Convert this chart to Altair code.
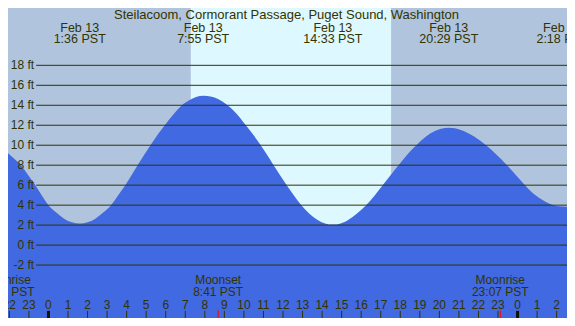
import altair as alt
import pandas as pd

# ---------------- data ----------------
TITLE = "Steilacoom, Cormorant Passage, Puget Sound, Washington"

# tide curve (hour of Feb 13, feet)
TIDE_HOURS = [-2.07, -1.75, -1.41, -1.05, -0.67, -0.33, 0.0, 0.4, 0.8, 1.2,
              1.6, 2.0, 2.4, 2.8, 3.2, 3.55, 3.93, 4.25, 4.56, 4.9,
              5.22, 5.6, 5.95, 6.4, 6.8, 7.2, 7.55, 7.93, 8.3, 8.7,
              9.1, 9.6, 10.1, 10.5, 10.86, 11.2, 11.52, 11.85, 12.19, 12.55,
              12.94, 13.35, 13.75, 14.15, 14.55, 14.95, 15.35, 15.8, 16.25, 16.7,
              17.1, 17.5, 17.91, 18.35, 18.82, 19.3, 19.8, 20.48, 21.1, 21.8,
              22.39, 22.9, 23.46, 23.9, 24.38, 24.85, 25.3, 25.7, 26.1, 26.53]
TIDE_FT = [9.2, 8.65, 8.0, 7.05, 6.0, 4.95, 4.0, 3.26, 2.65, 2.28,
           2.15, 2.28, 2.65, 3.26, 4.0, 4.95, 6.0, 7.0, 8.0, 9.05,
           10.0, 11.1, 12.0, 13.1, 13.95, 14.5, 14.82, 14.95, 14.88, 14.6,
           14.1, 13.2, 12.0, 11.0, 10.0, 9.0, 8.0, 7.0, 6.0, 5.0,
           4.0, 3.15, 2.55, 2.17, 2.05, 2.17, 2.55, 3.2, 4.0, 5.0,
           6.0, 7.0, 8.0, 9.05, 10.0, 10.85, 11.45, 11.75, 11.53, 10.85,
           10.0, 9.1, 8.0, 7.05, 6.0, 5.1, 4.48, 4.08, 3.88, 3.85]

# high / low tide events
EVENT_HOURS = [1.6, 7.917, 14.55, 20.483, 26.3]
EVENT_DATES = ["Feb 13", "Feb 13", "Feb 13", "Feb 13", "Feb 14"]
EVENT_TIMES = ["1:36 PST", "7:55 PST", "14:33 PST", "20:29 PST", "2:18 PST"]

# daylight (sunrise / sunset, hours)
DAY_START, DAY_END = 7.28, 17.53

# horizontal reference lines
GRID_FT = [-2, 0, 2, 4, 6, 8, 10, 12, 14, 16, 18]
GRID_LABELS = [f"{v} ft" for v in GRID_FT]

# hour ticks along the bottom
HOUR_TICKS = list(range(-2, 27))
HOUR_LABELS = [str(h % 24) for h in HOUR_TICKS]
MIDNIGHTS = [0, 24]

# moon events
MOON_HOURS = [-2.16, 8.683, 23.117]
MOON_NAMES = ["Moonrise", "Moonset", "Moonrise"]
MOON_TIMES = ["21:50 PST", "8:41 PST", "23:07 PST"]

# ---------------- layout ----------------
W, H = 559, 310
XMIN, XMAX = -2.07, 26.53
YMIN, YMAX = -7.3, 23.74

TITLE_Y = 22.6
DATE_Y, TIME_Y = 21.38, 20.2
MOON_NAME_Y, MOON_TIME_Y = -3.9, -5.05
HOUR_LABEL_Y = -6.35
TICK_TOP = -6.59
GRID_X0 = -0.63
GRID_LABEL_X = -0.73

FONT = "Liberation Sans"
TXT = "#333300"
NIGHT = "#B0C4DE"
DAY = "#DDF8FF"
WATER = "#4169E1"

xs = alt.Scale(domain=[XMIN, XMAX], nice=False, zero=False)
ys = alt.Scale(domain=[YMIN, YMAX], nice=False, zero=False)


def X(f="h"):
    return alt.X(f"{f}:Q", scale=xs, axis=None)


def Y(f="y"):
    return alt.Y(f"{f}:Q", scale=ys, axis=None)


day_df = pd.DataFrame({"h": [DAY_START], "h2": [DAY_END], "y": [YMAX], "y2": [YMIN]})
day = alt.Chart(day_df).mark_rect(color=DAY).encode(
    x=X(), x2="h2:Q", y=Y(), y2="y2:Q")

tide_df = pd.DataFrame({"h": TIDE_HOURS, "y": TIDE_FT})
tide = alt.Chart(tide_df).mark_area(color=WATER, opacity=1, interpolate="monotone").encode(
    x=X(), y=Y(), y2=alt.datum(YMIN))

grid_df = pd.DataFrame({"h": [GRID_X0] * len(GRID_FT), "h2": [XMAX] * len(GRID_FT),
                        "y": GRID_FT, "label": GRID_LABELS, "hl": [GRID_LABEL_X] * len(GRID_FT)})
grid = alt.Chart(grid_df).mark_rule(color=TXT, strokeWidth=1).encode(
    x=X(), x2="h2:Q", y=Y())
grid_labels = alt.Chart(grid_df).mark_text(
    align="right", baseline="middle", font=FONT, fontSize=12, color=TXT).encode(
    x=X("hl"), y=Y(), text="label:N")

title_df = pd.DataFrame({"h": [(XMIN + XMAX) / 2 - 0.05], "y": [TITLE_Y], "t": [TITLE]})
title = alt.Chart(title_df).mark_text(
    align="center", baseline="alphabetic", font=FONT, fontSize=13, color=TXT).encode(
    x=X(), y=Y(), text="t:N")

ev_df = pd.DataFrame({"h": EVENT_HOURS, "d": EVENT_DATES, "t": EVENT_TIMES,
                      "yd": [DATE_Y] * 5, "yt": [TIME_Y] * 5})
ev_dates = alt.Chart(ev_df).mark_text(
    align="center", baseline="alphabetic", font=FONT, fontSize=12.5, color=TXT).encode(
    x=X(), y=Y("yd"), text="d:N")
ev_times = alt.Chart(ev_df).mark_text(
    align="center", baseline="alphabetic", font=FONT, fontSize=12.5, color=TXT).encode(
    x=X(), y=Y("yt"), text="t:N")

moon_df = pd.DataFrame({"h": MOON_HOURS, "n": MOON_NAMES, "t": MOON_TIMES,
                        "yn": [MOON_NAME_Y] * 3, "yt": [MOON_TIME_Y] * 3,
                        "y0": [TICK_TOP + 0.05] * 3, "y1": [YMIN] * 3})
moon_names = alt.Chart(moon_df).mark_text(
    align="center", baseline="alphabetic", font=FONT, fontSize=12, color=TXT).encode(
    x=X(), y=Y("yn"), text="n:N")
moon_times = alt.Chart(moon_df).mark_text(
    align="center", baseline="alphabetic", font=FONT, fontSize=12, color=TXT).encode(
    x=X(), y=Y("yt"), text="t:N")

hour_df = pd.DataFrame({"h": HOUR_TICKS, "label": HOUR_LABELS,
                        "yl": [HOUR_LABEL_Y] * len(HOUR_TICKS),
                        "y0": [TICK_TOP] * len(HOUR_TICKS), "y1": [YMIN] * len(HOUR_TICKS)})
hour_labels = alt.Chart(hour_df).mark_text(
    align="center", baseline="alphabetic", font=FONT, fontSize=12, color=TXT).encode(
    x=X(), y=Y("yl"), text="label:N")
hour_ticks = alt.Chart(hour_df).mark_rule(color=TXT, strokeWidth=1).encode(
    x=X(), y=Y("y0"), y2="y1:Q")

mid_df = pd.DataFrame({"h": MIDNIGHTS, "y0": [TICK_TOP] * 2, "y1": [YMIN] * 2})
mid_ticks = alt.Chart(mid_df).mark_rule(color="#111100", strokeWidth=3).encode(
    x=X(), y=Y("y0"), y2="y1:Q")

moon_ticks = alt.Chart(moon_df).mark_rule(color="#FF0000", strokeWidth=1).encode(
    x=X(), y=Y("y0"), y2="y1:Q")

chart = alt.layer(
    day, tide, grid, grid_labels, title, ev_dates, ev_times,
    moon_names, moon_times, hour_labels, hour_ticks, mid_ticks, moon_ticks
).properties(
    width=W, height=H,
    autosize=alt.AutoSizeParams(type="none"),
    padding=0,
).configure(background=NIGHT).configure_view(fill=NIGHT, strokeWidth=0)

chart.save("out.html", embed_options={"renderer": "svg", "actions": False})
